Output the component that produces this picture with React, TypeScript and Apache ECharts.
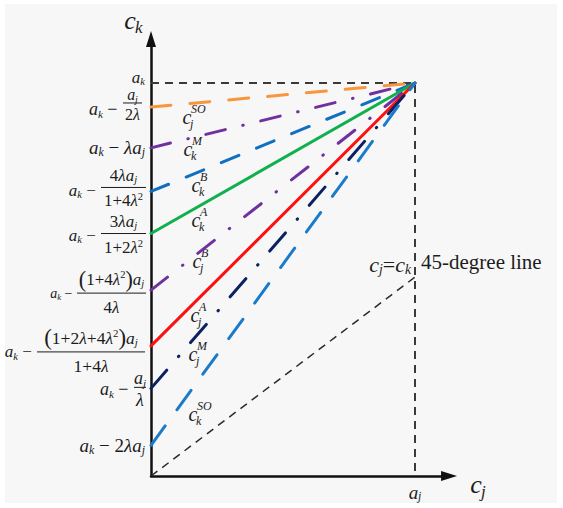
import React, { useEffect, useRef } from 'react';
import * as echarts from 'echarts';

// ---- data (normalised: a_j = 1, a_k = 1) ----
const A_J = 1;
const A_K = 1;
const lineKeys = ['cjSO', 'ckM', 'ckB', 'ckA', 'cjB', 'cjA', 'cjM', 'ckSO'];
const intercepts = [0.939, 0.835, 0.724, 0.617, 0.473, 0.331, 0.223, 0.078];
const diagonalEnd = 0.506;
const XMAX = 1.129;
const YMAX = 1.112;

const lineColors = ['#F7963C', '#7030A0', '#0F6FC2', '#10B04C', '#7030A0', '#FF1010', '#0B2161', '#1A7BCB'];
const lineDash: any[] = [[20, 19], [20, 18, 0.5, 18], [19, 19], 'solid', [21, 19, 0.5, 19], 'solid', [24, 18, 0.5, 18], [24, 20]];

const INK = '#1c1c1c';
const FONT = 'Liberation Serif';

const mkRich = (fs: number) => ({
  i: { fontSize: fs, fontStyle: 'italic', fontFamily: FONT, fill: INK, lineHeight: fs * 1.15 },
  n: { fontSize: fs, fontFamily: FONT, fill: INK, lineHeight: fs * 1.15 },
  b: { fontSize: fs * 1.3, fontFamily: FONT, fill: INK, lineHeight: fs * 1.15 },
  sb: { fontSize: fs * 0.62, fontStyle: 'italic', fontFamily: FONT, fill: INK, lineHeight: fs * 0.62, verticalAlign: 'bottom' },
  sp: { fontSize: fs * 0.62, fontFamily: FONT, fill: INK, lineHeight: fs * 0.62, verticalAlign: 'top' },
});

const rtext = (x: number, y: number, text: string, fs: number, align: string) => ({
  type: 'text',
  x,
  y,
  silent: true,
  style: { text, rich: mkRich(fs), fill: INK, fontFamily: FONT, fontSize: fs, align, verticalAlign: 'middle' },
});

export default function App() {
  const ref = useRef<HTMLDivElement>(null);
  useEffect(() => {
    if (!ref.current) return;
    const chart = echarts.init(ref.current, undefined, { renderer: 'svg' });
    const PX = 264;
    const PY = 393;
    const series: any[] = [];
    series.push({
      type: 'line',
      data: [[0, A_K], [A_J, A_K], [A_J, 0]],
      symbol: 'none',
      lineStyle: { color: '#3a3a3a', width: 2, type: [8, 6] },
      silent: true,
      z: 1,
    });
    series.push({
      type: 'line',
      data: [[0, 0], [A_J, diagonalEnd]],
      symbol: 'none',
      lineStyle: { color: '#2a2a2a', width: 1.5, type: [8, 6] },
      silent: true,
      z: 1,
    });
    lineKeys.forEach((k, idx) => {
      series.push({
        type: 'line',
        name: k,
        data: [[0, intercepts[idx]], [A_J, A_K]],
        symbol: 'none',
        lineStyle: { color: lineColors[idx], width: 3, type: lineDash[idx], cap: 'round' },
        silent: true,
        z: 3,
      });
    });
    chart.setOption({
      animation: false,
      backgroundColor: 'transparent',
      grid: { left: 151, top: 476 - YMAX * PY, width: XMAX * PX, height: YMAX * PY },
      xAxis: {
        type: 'value', min: 0, max: XMAX,
        axisLine: { lineStyle: { color: '#111', width: 2.5 }, symbol: ['none', 'triangle'], symbolSize: [10, 16] },
        axisTick: { show: false }, axisLabel: { show: false }, splitLine: { show: false },
      },
      yAxis: {
        type: 'value', min: 0, max: YMAX,
        axisLine: { lineStyle: { color: '#111', width: 2.5 }, symbol: ['none', 'triangle'], symbolSize: [10, 16] },
        axisTick: { show: false }, axisLabel: { show: false }, splitLine: { show: false },
      },
      series,
    });

    const P = (x: number, y: number) => chart.convertToPixel({ gridIndex: 0 }, [x, y]) as number[];
    const ax = P(0, 0)[0];
    const ay = P(0, 0)[1];
    const yOf = (v: number) => P(0, v)[1];
    const g: any[] = [];

    const frac = (xl: number, xr: number, yb: number, num: string, den: string, fs: number, nUp: number, dDown: number) => {
      g.push(rtext((xl + xr) / 2, yb - nUp, num, fs, 'center'));
      g.push({ type: 'line', silent: true, shape: { x1: xl, y1: yb, x2: xr, y2: yb }, style: { stroke: INK, lineWidth: 1 } });
      g.push(rtext((xl + xr) / 2, yb + dDown, den, fs, 'center'));
    };
    const AK = '{i|a}{sb|k}';
    const AKm = '{i|a}{sb|k}{n| − }';

    // y-axis labels
    g.push(rtext(ax - 6, yOf(A_K) - 6, AK, 17, 'right'));
    let y = yOf(intercepts[0]);
    g.push(rtext(ax - 29, y + 2, AKm, 18, 'right'));
    frac(ax - 28, ax - 9, y - 4, '{i|a}{sb|j}', '{n|2}{i|λ}', 16, 8, 12);
    y = yOf(intercepts[1]);
    g.push(rtext(ax - 6, y, AKm + '{i|λa}{sb|j}', 19, 'right'));
    y = yOf(intercepts[2]);
    g.push(rtext(ax - 51, y - 1, AKm, 17, 'right'));
    frac(ax - 50, ax - 5, y - 4, '{n|4}{i|λa}{sb|j}', '{n|1+4}{i|λ}{sp|2}', 17, 12, 13);
    y = yOf(intercepts[3]);
    g.push(rtext(ax - 51, y + 2, AKm, 17, 'right'));
    frac(ax - 50, ax - 5, y, '{n|3}{i|λa}{sb|j}', '{n|1+2}{i|λ}{sp|2}', 17, 12, 14);
    y = yOf(intercepts[4]);
    g.push(rtext(ax - 75, y + 3, AKm, 14, 'right'));
    frac(ax - 74, ax - 5, y + 3, '{b|(}{n|1+4}{i|λ}{sp|2}{b|)}{i|a}{sb|j}', '{n|4}{i|λ}', 17, 14, 14);
    y = yOf(intercepts[5]);
    g.push(rtext(ax - 115, y + 6, AKm, 17, 'right'));
    frac(ax - 114, ax - 6, y + 6, '{b|(}{n|1+2}{i|λ}{n|+4}{i|λ}{sp|2}{b|)}{i|a}{sb|j}', '{n|1+4}{i|λ}', 17.5, 14, 14);
    y = yOf(intercepts[6]);
    g.push(rtext(ax - 18, y + 1, AKm, 18, 'right'));
    frac(ax - 17, ax - 5, y - 1, '{i|a}{sb|j}', '{i|λ}', 18, 9, 13);
    y = yOf(intercepts[7]);
    g.push(rtext(ax - 6, y, AKm + '{n|2}{i|λa}{sb|j}', 19, 'right'));

    // curve labels: c with sub and sup
    const cLabel = (x: number, yy: number, sub: string, sup: string) => {
      g.push({ type: 'text', x, y: yy, silent: true, style: { text: 'c', fill: INK, fontFamily: FONT, fontStyle: 'italic', fontSize: 20, align: 'center', verticalAlign: 'middle' } });
      g.push({ type: 'text', x: x + 4, y: yy - 8, silent: true, style: { text: sup, fill: INK, fontFamily: FONT, fontStyle: 'italic', fontSize: 12, align: 'left', verticalAlign: 'middle' } });
      g.push({ type: 'text', x: x + 3, y: yy + 7, silent: true, style: { text: sub, fill: INK, fontFamily: FONT, fontStyle: 'italic', fontSize: 12, align: 'left', verticalAlign: 'middle' } });
    };
    cLabel(187, 117, 'j', 'SO');
    cLabel(188, 149, 'k', 'M');
    cLabel(196, 185, 'k', 'B');
    cLabel(196, 220, 'k', 'A');
    cLabel(197, 261, 'j', 'B');
    cLabel(195, 315, 'j', 'A');
    cLabel(193, 354, 'j', 'M');
    cLabel(193, 414, 'k', 'SO');

    // axis names
    g.push({ type: 'text', x: 130, y: 20, silent: true, style: { text: 'c', fill: INK, fontFamily: FONT, fontStyle: 'italic', fontSize: 26, align: 'center', verticalAlign: 'middle' } });
    g.push({ type: 'text', x: 135, y: 27, silent: true, style: { text: 'k', fill: INK, fontFamily: FONT, fontStyle: 'italic', fontSize: 17, align: 'left', verticalAlign: 'middle' } });
    const xe = P(A_J, 0);
    g.push({ type: 'text', x: 476, y: ay + 8, silent: true, style: { text: 'c', fill: INK, fontFamily: FONT, fontStyle: 'italic', fontSize: 26, align: 'center', verticalAlign: 'middle' } });
    g.push({ type: 'text', x: 481, y: ay + 15, silent: true, style: { text: 'j', fill: INK, fontFamily: FONT, fontStyle: 'italic', fontSize: 17, align: 'left', verticalAlign: 'middle' } });
    g.push(rtext(xe[0], ay + 16, '{i|a}{sb|j}', 19, 'center'));

    // 45-degree annotation
    const de = P(A_J, diagonalEnd);
    g.push(rtext(de[0] - 4, de[1] - 13, '{i|c}{sb|j}{n|=}{i|c}{sb|k}', 22, 'right'));
    g.push({ type: 'text', x: de[0] + 6, y: de[1] - 15, silent: true, style: { text: '45-degree line', fill: INK, fontFamily: FONT, fontSize: 21, align: 'left', verticalAlign: 'middle' } });

    chart.setOption({ graphic: g });
    return () => chart.dispose();
  }, []);
  return (
    <div style={{ position: 'fixed', left: 0, top: 0, width: 563, height: 508, background: '#ffffff' }}>
      <div style={{ position: 'absolute', left: 5, top: 4, right: 6, bottom: 5, background: '#f7f7f7' }} />
      <div ref={ref} style={{ position: 'absolute', left: 0, top: 0, width: 563, height: 508 }} />
    </div>
  );
}
